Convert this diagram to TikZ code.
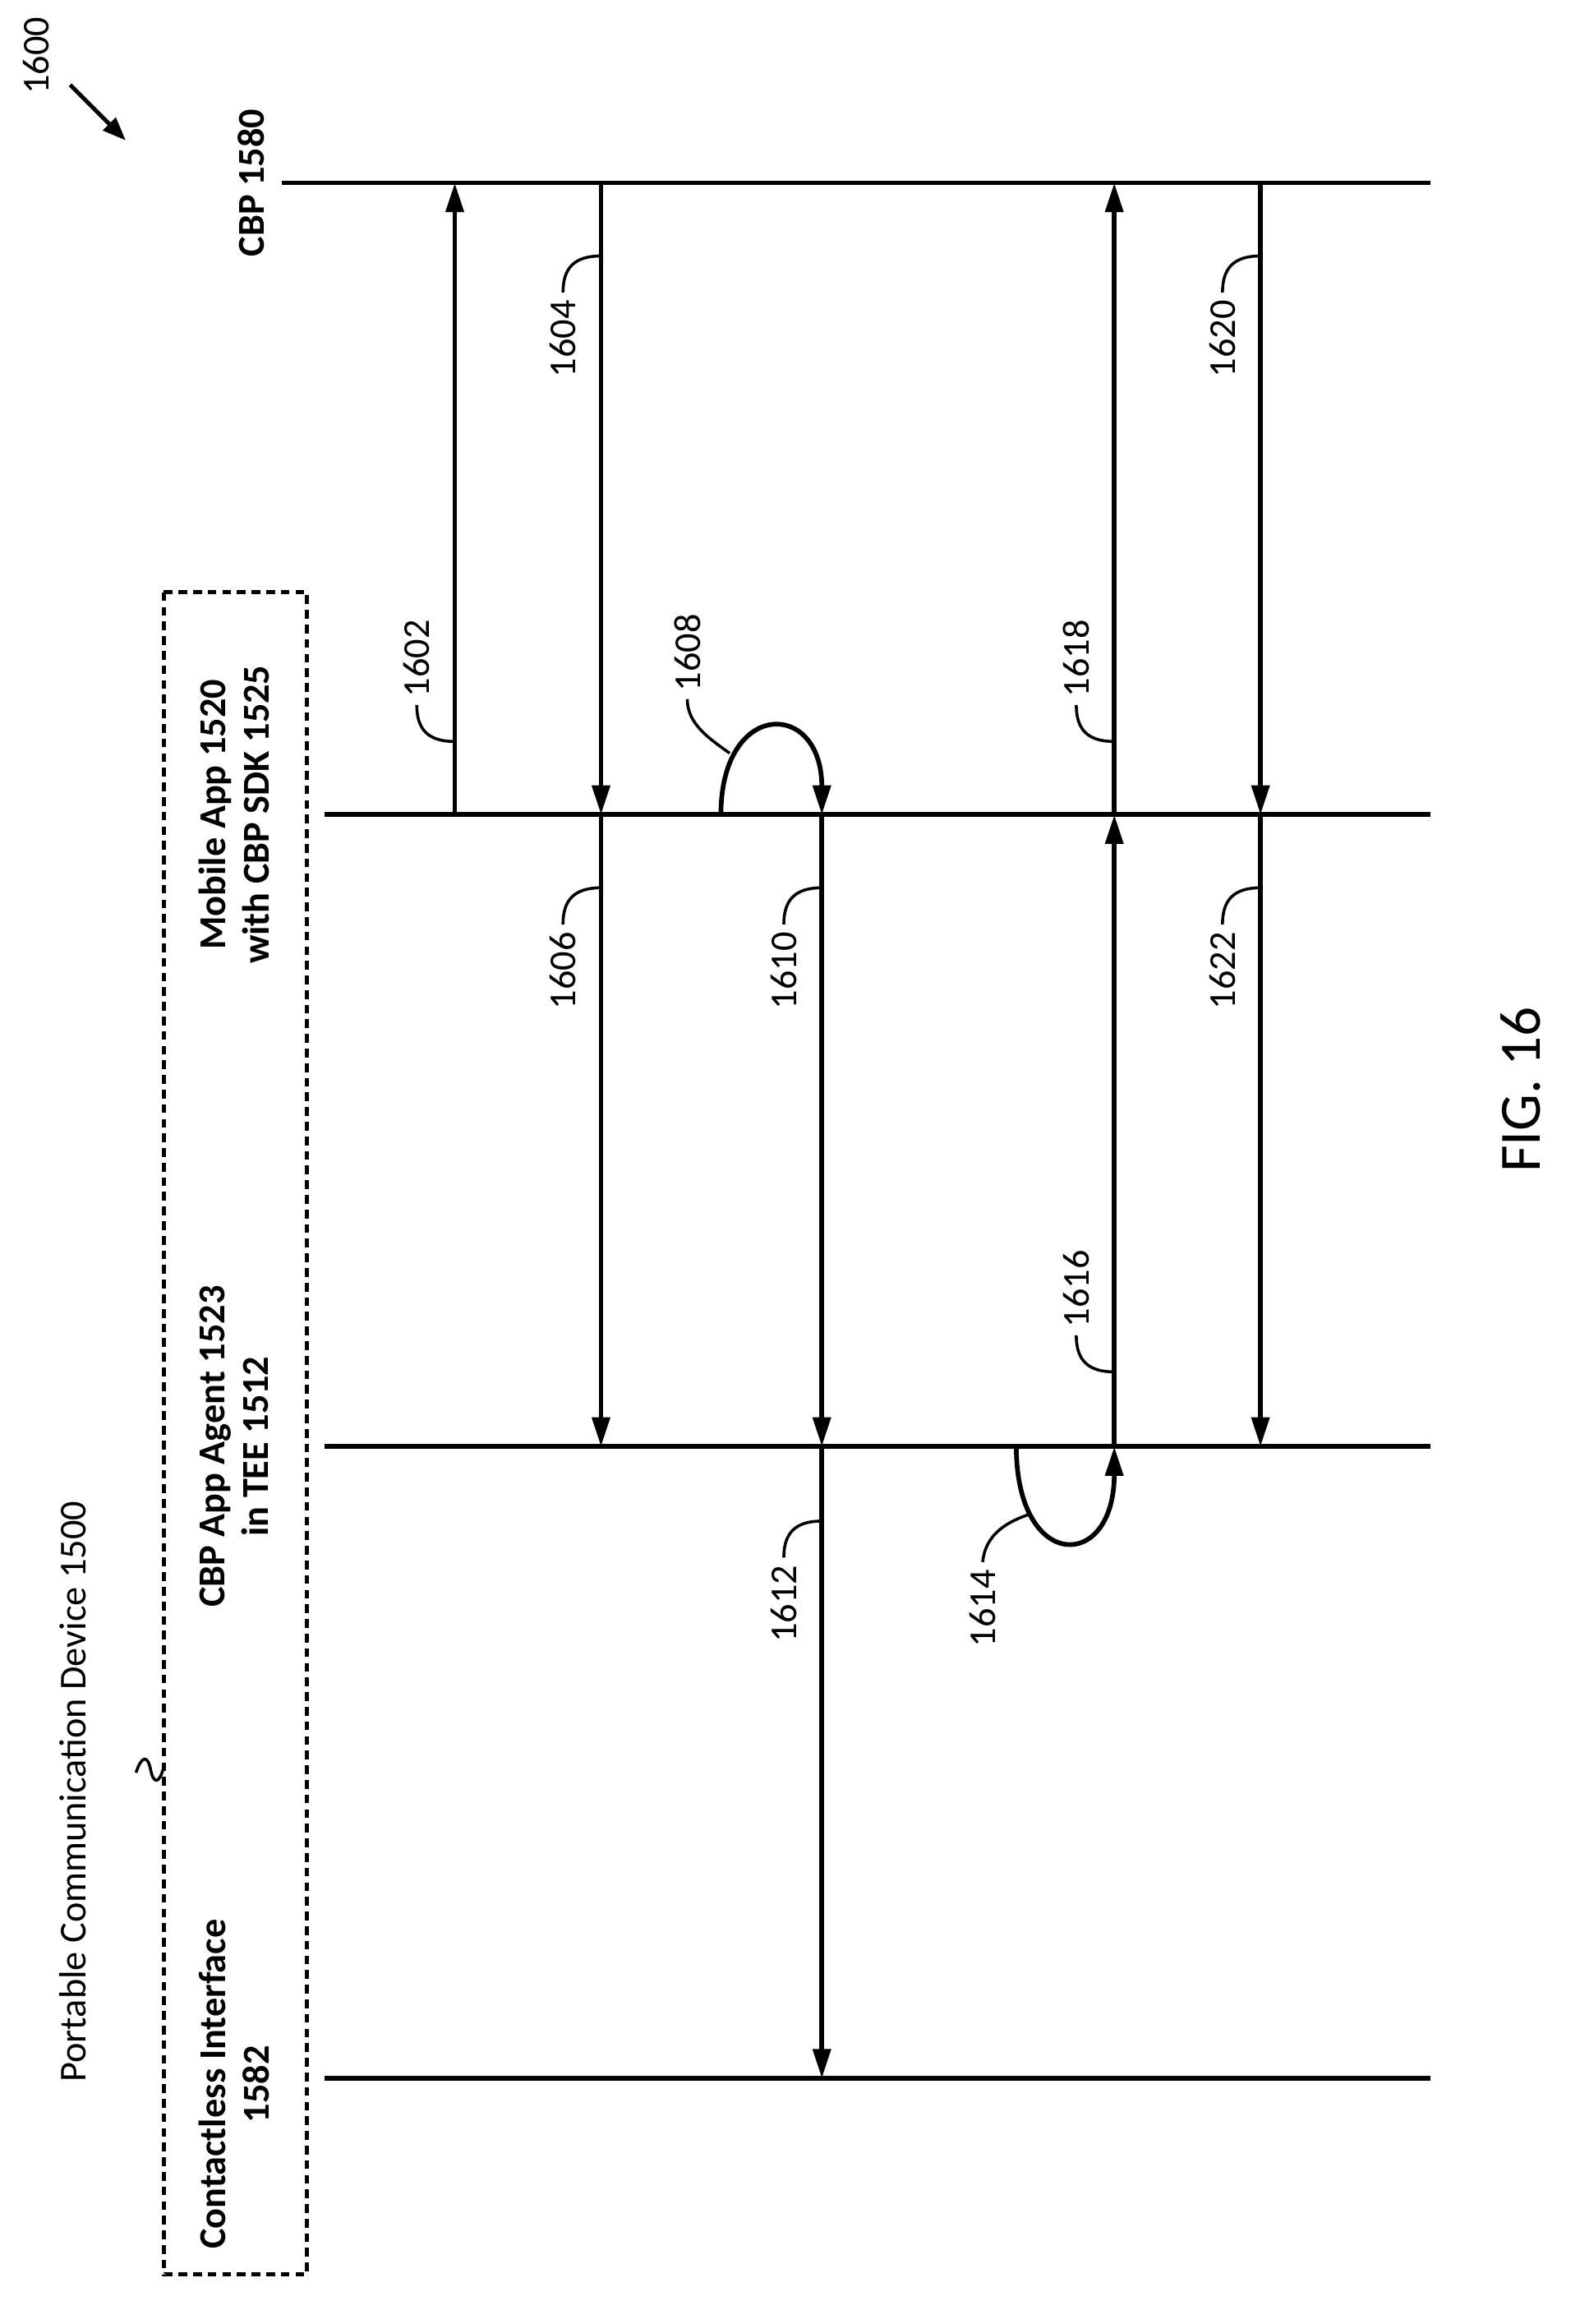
\documentclass[tikz,border=0pt]{standalone}
\usepackage{fontspec}
\setmainfont{Carlito}
\usetikzlibrary{arrows.meta}
\begin{document}
\begin{tikzpicture}[x=0.5pt,y=-0.5pt,
  life/.style={line width=1.6pt},
  msg/.style={line width=1.6pt,-{Triangle[length=10pt,width=6pt]}},
  hook/.style={line width=1pt},
  lab/.style={rotate=90,font=\fontsize{13}{15}\selectfont,inner sep=1pt},
  head/.style={rotate=90,font=\bfseries\fontsize{13}{15}\selectfont,align=center,inner sep=1pt}]
\useasboundingbox (0,0) rectangle (1080,1589);
% lifelines
\coordinate (c0) at (193,125); \coordinate (c1) at (978,125);
\coordinate (m0) at (222,557); \coordinate (m1) at (978,557);
\coordinate (a0) at (222,989); \coordinate (a1) at (978,989);
\coordinate (k0) at (222,1421); \coordinate (k1) at (978,1421);
\draw[life] (c0) -- (c1);
\draw[life] (m0) -- (m1);
\draw[life] (a0) -- (a1);
\draw[life] (k0) -- (k1);
% box
\draw[line width=1.3pt,dash pattern=on 3pt off 2pt] (112,405) rectangle (210,1555);
% headers
\node[head] (hc) at (172,125) {CBP 1580};
\node[head] (hm) at (160,557) {Mobile App 1520\\with CBP SDK 1525};
\node[head] (ha) at (160,989) {CBP App Agent 1523\\in TEE 1512};
\node[head] (hk) at (160,1425) {Contactless Interface\\1582};
\node[lab,anchor=center] (pcd) at (50,1225) {Portable Communication Device 1500};
\draw[hook] (93,1212) .. controls (97,1200) and (101,1200) .. (103,1210) .. controls (105,1220) and (109,1220) .. (112,1208);
% 1600
\node[lab] (n1600) at (25,38) {1600};
\draw[line width=1.4pt,-{Triangle[length=8pt,width=6pt]}] (48,58) -- (86,96);
% messages
\draw[msg] (311,557) -- (311,125);
\draw[msg] (411,125) -- (411,557);
\draw[msg] (411,557) -- (411,989);
\draw[msg] (493,557) .. controls (493,478) and (562,478) .. (562,557);
\draw[msg] (562,557) -- (562,989);
\draw[msg] (562,989) -- (562,1421);
\draw[msg] (695,989) .. controls (695,1075) and (762,1075) .. (762,989);
\draw[msg] (762,989) -- (762,557);
\draw[msg] (762,557) -- (762,125);
\draw[msg] (862,125) -- (862,557);
\draw[msg] (862,557) -- (862,989);
% labels below
\foreach \x/\y/\t in {411/175/1604, 411/607/1606, 562/607/1610, 562/1040/1612, 862/175/1620, 862/607/1622}{
  \draw[hook] (\x,\y) .. controls (\x-18,\y) and (\x-26,\y+8) .. (\x-26,\y+25);
  \node[lab,anchor=east] at (\x-26,\y+28) {\t};
}
% labels above
\foreach \x/\y/\t in {311/507/1602, 762/507/1618, 762/938/1616}{
  \draw[hook] (\x,\y) .. controls (\x-18,\y) and (\x-26,\y-8) .. (\x-26,\y-25);
  \node[lab,anchor=west] at (\x-26,\y-28) {\t};
}
\draw[hook] (499,515) .. controls (485,505) and (470,495) .. (470,478);
\node[lab,anchor=west] at (470,475) {1608};
\draw[hook] (705,1035) .. controls (690,1040) and (674,1048) .. (672,1068);
\node[lab,anchor=east] at (672,1071) {1614};
\node[rotate=90,font=\fontsize{20}{24}\selectfont] (fig) at (1040,745) {FIG. 16};
\end{tikzpicture}
\end{document}
